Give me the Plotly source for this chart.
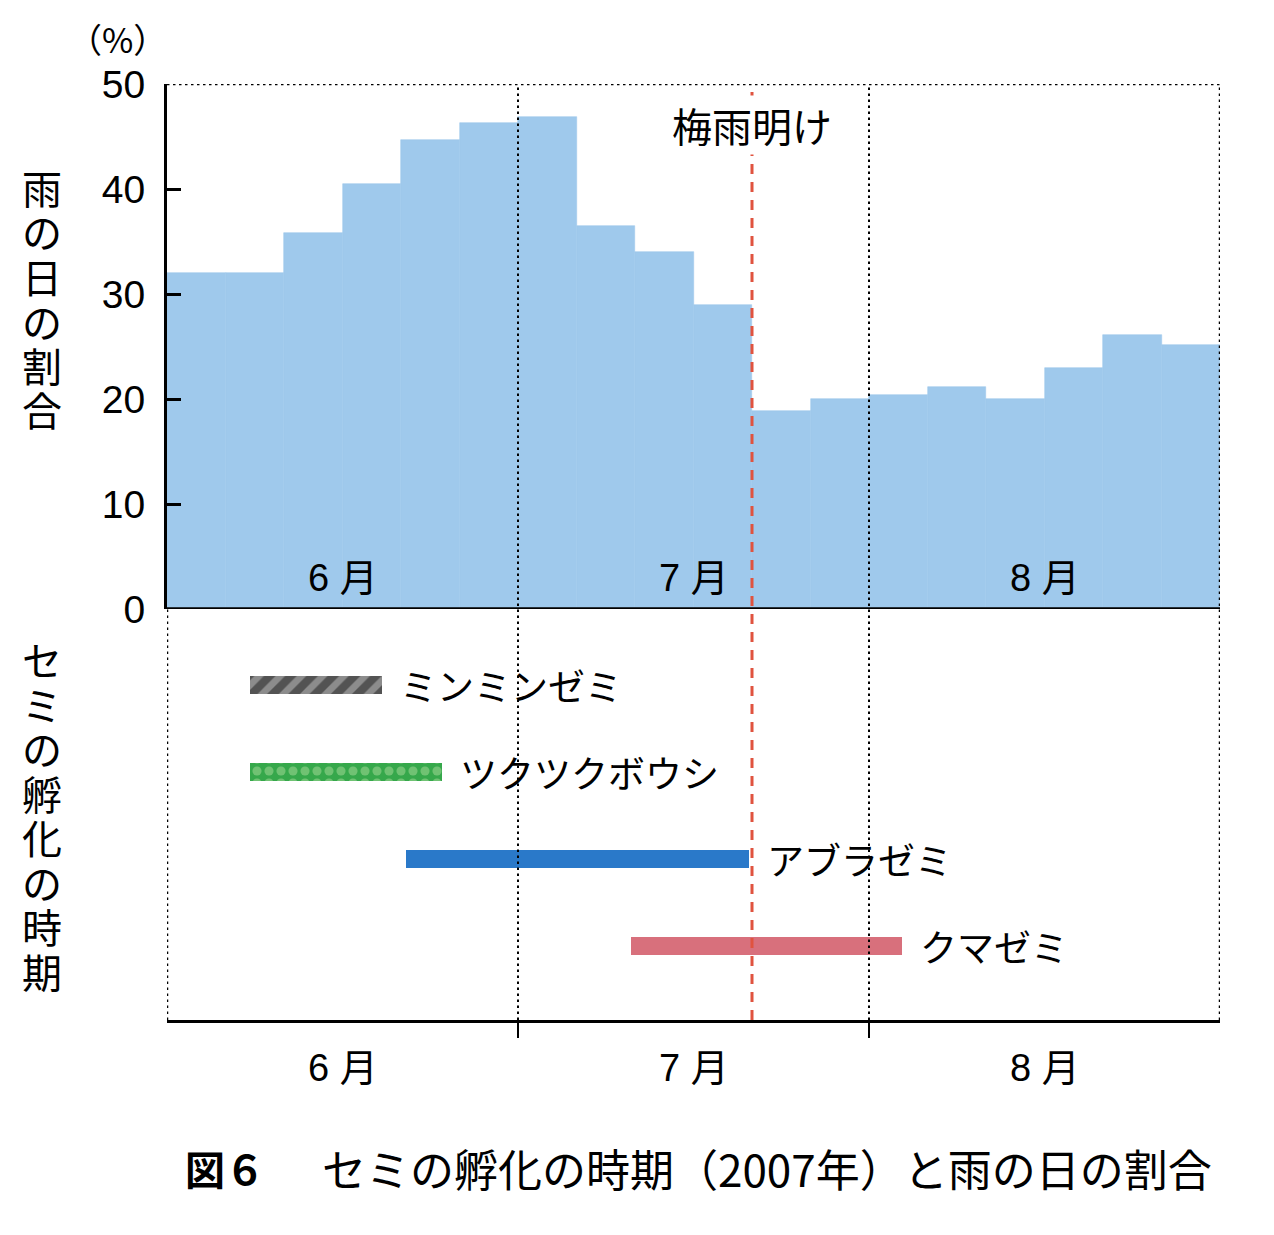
import plotly.graph_objects as go

W, H = 1274, 1235

# ---------------- data ----------------
periods = list(range(18))  # 5-day periods, June–August
rain_pct = [32.0, 32.0, 35.8, 40.5, 44.7, 46.3,
            46.9, 36.5, 34.0, 29.0, 18.9, 20.0,
            20.4, 21.1, 20.0, 23.0, 26.1, 25.1]
months = ["6 月", "7 月", "8 月"]
month_centers = [3, 9, 15]
month_bounds = [6, 12]
y_ticks = [0, 10, 20, 30, 40, 50]

species = ["ミンミンゼミ", "ツクツクボウシ", "アブラゼミ", "クマゼミ"]
emerge_start = [1.42, 1.42, 4.09, 7.94]
emerge_end = [3.68, 4.70, 9.95, 12.56]
tsuyu_ake = 10.0

# ---------------- styles ----------------
FONT = "Liberation Sans, Noto Sans CJK JP, sans-serif"
CJK = "Noto Sans CJK JP, sans-serif"
X0, X1 = 167, 1220
Y_TOP, Y_BASE, Y_BOT = 84, 609, 1020


def py(p):
    return 1 - p / H


rain_color = "#9fc9ec"
species_marker = [
    dict(color="#8a8a8a", line=dict(width=0),
         pattern=dict(shape="/", bgcolor="#8c8c8c", fgcolor="#1a1a1a", size=15, solidity=0.55)),
    dict(color="#36a84b", line=dict(width=0),
         pattern=dict(shape=".", bgcolor="#36a84b", fgcolor="#a9dc9c", size=12, solidity=0.45)),
    dict(color="#2a79c9", line=dict(width=0)),
    dict(color="#d8707c", line=dict(width=0)),
]

fig = go.Figure()

fig.add_trace(go.Bar(
    x=[p + 0.5 for p in periods], y=rain_pct, width=1,
    marker=dict(color=rain_color, line=dict(color=rain_color, width=0.6)),
    xaxis="x", yaxis="y", showlegend=False, hoverinfo="skip"))

for i, name in enumerate(species):
    fig.add_trace(go.Bar(
        orientation="h", y=[i], x=[emerge_end[i] - emerge_start[i]],
        base=[emerge_start[i]], width=0.21, marker=species_marker[i],
        xaxis="x", yaxis="y2", showlegend=False, name=name))

shapes = []
dot = "2.5px,3.5px"
shapes.append(dict(type="line", xref="x", yref="y", x0=0, x1=18, y0=50, y1=50,
                   line=dict(color="black", width=2.5, dash=dot), layer="above"))
for b in month_bounds:
    shapes.append(dict(type="line", xref="x", yref="paper", x0=b, x1=b,
                       y0=py(Y_BOT), y1=py(Y_TOP),
                       line=dict(color="black", width=2, dash=dot), layer="above"))
shapes.append(dict(type="line", xref="x", yref="paper", x0=18, x1=18,
                   y0=py(Y_BOT), y1=py(Y_TOP),
                   line=dict(color="black", width=2.5, dash=dot), layer="above"))
shapes.append(dict(type="line", xref="x", yref="paper", x0=0, x1=0,
                   y0=py(Y_BOT), y1=py(Y_BASE),
                   line=dict(color="black", width=2.5, dash=dot), layer="above"))
shapes.append(dict(type="line", xref="x", yref="y", x0=0, x1=18, y0=0, y1=0,
                   line=dict(color="black", width=3.5), layer="above"))
shapes.append(dict(type="line", xref="x", yref="paper", x0=tsuyu_ake, x1=tsuyu_ake,
                   y0=py(Y_BOT), y1=py(Y_TOP),
                   line=dict(color="#e0533f", width=3, dash="10px,8px"), layer="above"))

ann = []


def A(**kw):
    kw.setdefault("showarrow", False)
    kw.setdefault("xanchor", "center")
    kw.setdefault("yanchor", "middle")
    ann.append(kw)


A(text="（%）", x=117 / W, y=py(38), xref="paper", yref="paper",
  font=dict(size=34, family=CJK, color="black"))
for k, ch in enumerate("雨の日の割合"):
    A(text=ch, x=42 / W, y=py(187 + 44.5 * k), xref="paper", yref="paper",
      font=dict(size=40, family=CJK, color="black"))
for k, ch in enumerate("セミの孵化の時期"):
    A(text=ch, x=42 / W, y=py(659 + 44.5 * k), xref="paper", yref="paper",
      font=dict(size=40, family=CJK, color="black"))
A(text="梅雨明け", x=tsuyu_ake, y=py(125), xref="x", yref="paper",
  bgcolor="white", borderpad=0, font=dict(size=40, family=CJK, color="black"))
for m, c in zip(months, month_centers):
    A(text=m, x=c, y=py(578), xref="x", yref="paper",
      font=dict(size=38, family=FONT, color="black"))
    A(text=m, x=c, y=py(1068), xref="x", yref="paper",
      font=dict(size=38, family=FONT, color="black"))
for i, name in enumerate(species):
    A(text=name, x=emerge_end[i], y=i, xref="x", yref="y2",
      xanchor="left", xshift=16, font=dict(size=37, family=CJK, color="black"))
A(text="<b>図６</b>", x=183 / W, y=py(1168), xref="paper", yref="paper",
  xanchor="left", font=dict(size=40, family=CJK, color="black"))
A(text="セミの孵化の時期（2007年）と雨の日の割合", x=320 / W, y=py(1168),
  xref="paper", yref="paper", xanchor="left",
  font=dict(size=44, family=CJK, color="black"))

fig.update_layout(
    width=W, height=H, margin=dict(l=0, r=0, t=0, b=0, autoexpand=False),
    paper_bgcolor="white", plot_bgcolor="rgba(0,0,0,0)",
    barmode="overlay", bargap=0, showlegend=False,
    font=dict(family=FONT, color="black"),
    xaxis=dict(domain=[X0 / W, X1 / W], range=[0, 18], anchor="y2", automargin=False,
               showline=True, linecolor="black", linewidth=3,
               ticks="outside", ticklen=15, tickwidth=2, tickcolor="black",
               tickvals=month_bounds, showticklabels=False,
               showgrid=False, zeroline=False, fixedrange=True),
    yaxis=dict(domain=[py(Y_BASE), py(Y_TOP)], range=[0, 50], anchor="x", automargin=False,
               showline=True, linecolor="black", linewidth=3,
               ticks="inside", ticklen=14, tickwidth=3, tickcolor="black",
               tickvals=y_ticks, tickfont=dict(size=39, family=FONT),
               ticklabelstandoff=11,
               showgrid=False, zeroline=False, fixedrange=True),
    yaxis2=dict(domain=[py(Y_BOT), py(Y_BASE)], range=[3.85, -0.874], anchor="x",
                automargin=False, visible=False, fixedrange=True),
    shapes=shapes, annotations=ann,
)

fig.write_html("out.html")
